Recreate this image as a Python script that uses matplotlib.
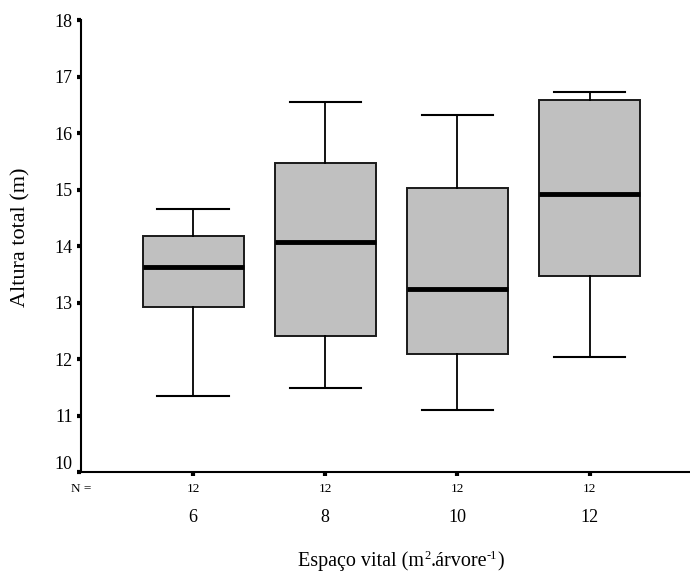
import matplotlib.pyplot as plt
from matplotlib import transforms

plt.rcParams['font.family'] = ['Liberation Serif', 'DejaVu Serif']

categories = ["6", "8", "10", "12"]
n_counts = [12, 12, 12, 12]
whisker_low = [11.35, 11.49, 11.09, 12.03]
q1 = [12.93, 12.41, 12.09, 13.47]
median = [13.64, 14.07, 13.245, 14.92]
q3 = [14.18, 15.48, 15.03, 16.585]
whisker_high = [14.66, 16.555, 16.33, 16.73]

stats = []
for i in range(len(categories)):
    stats.append({"whislo": whisker_low[i], "q1": q1[i], "med": median[i],
                  "q3": q3[i], "whishi": whisker_high[i], "fliers": []})

positions = list(range(1, len(categories) + 1))

fig = plt.figure(figsize=(6.9, 5.77), dpi=100)
ax = fig.add_axes([0.1174, 0.182, 0.8826, 0.7825])

ax.bxp(stats, positions=positions, widths=0.765, capwidths=0.54,
       patch_artist=True, showfliers=False,
       boxprops=dict(facecolor='#c0c0c0', edgecolor='#1a1a1a', linewidth=1.4),
       medianprops=dict(color='black', linewidth=3.5, solid_capstyle='butt'),
       whiskerprops=dict(color='black', linewidth=1.3),
       capprops=dict(color='black', linewidth=1.5))

ax.set_xlim(0.152, 4.76)
ax.set_ylim(10, 18)
ax.set_yticks(range(10, 19))
ax.set_xticks(positions)
ax.set_xticklabels([])

ax.spines['top'].set_visible(False)
ax.spines['right'].set_visible(False)
ax.spines['left'].set_linewidth(1.5)
ax.spines['bottom'].set_linewidth(1.5)

ax.tick_params(axis='y', direction='out', length=3, width=3, labelsize=13, pad=3)
ax.tick_params(axis='x', direction='out', length=3, width=3)

# the lowest label sits a bit above its tick, as in the original
lbl = ax.get_yticklabels()[0]
lbl.set_transform(lbl.get_transform() +
                  transforms.ScaledTranslation(0, 9 / 100, fig.dpi_scale_trans))

# N = counts and category labels below the axis
trans = transforms.blended_transform_factory(ax.transData, fig.transFigure)
fig.text(81 / 690, 1 - 489 / 577, "N =", fontsize=9.5, ha='center', va='center')
for pos, n, cat in zip(positions, n_counts, categories):
    ax.text(pos, 1 - 489 / 577, str(n), transform=trans, fontsize=9.5,
            ha='center', va='center')
    ax.text(pos, 1 - 518 / 577, cat, transform=trans, fontsize=13,
            ha='center', va='center')

fig.text(21 / 690, 1 - 237 / 577, "Altura total (m)", fontsize=16,
         rotation=90, ha='center', va='center')

# x title with small raised superscripts, built piece by piece
pieces = [("Espaço vital (m", False), ("2", True), (".árvore", False),
          ("-1", True), (")", False)]
renderer = fig.canvas.get_renderer()
base_y = 1 - 566 / 577
texts = []
x = 0.0
for s, sup in pieces:
    t = fig.text(x, base_y + (0.012 if sup else 0), s,
                 fontsize=9 if sup else 14.5, ha='left', va='baseline')
    w = t.get_window_extent(renderer).width / fig.bbox.width
    texts.append((t, x))
    x += w
start = 401 / 690 - x / 2
for t, off in texts:
    t.set_x(start + off)

fig.savefig("out.png", dpi=100)
